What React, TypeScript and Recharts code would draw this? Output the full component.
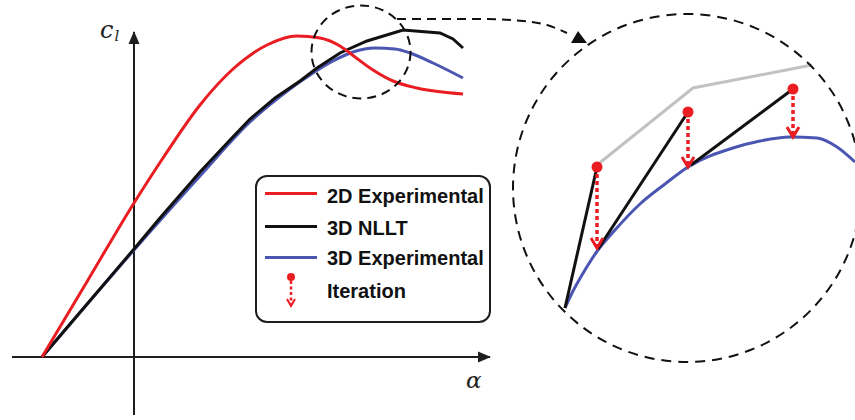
import React from 'react';
import { LineChart, Line, XAxis, YAxis, ReferenceDot, Legend } from 'recharts';

// ---------- Main plot (alpha, c_l) ----------
const alpha2D = [-9.2, -4.6, 0, 2.9, 6.6, 9.9, 13.3, 16.3, 18.6, 20.6, 22.1, 23.9, 25.9, 28.3, 32.9];
const cl2D = [0, 0.77, 1.54, 1.99, 2.52, 2.88, 3.12, 3.21, 3.19, 3.11, 3.0, 2.87, 2.76, 2.69, 2.63];

const alphaNLLT = [-9.2, 0, 2.6, 6.6, 9.6, 11.6, 14.1, 16.6, 18.3, 20.6, 23.3, 26.9, 30.6, 31.9, 32.9];
const clNLLT = [0, 1.08, 1.39, 1.85, 2.17, 2.38, 2.59, 2.76, 2.89, 3.04, 3.16, 3.27, 3.24, 3.18, 3.09];

const alpha3D = [-9.2, 0, 6.6, 11.6, 15.6, 17.6, 19.9, 21.9, 24.1, 26.1, 27.6, 29.9, 32.9];
const cl3D = [0, 1.07, 1.81, 2.35, 2.68, 2.82, 2.96, 3.05, 3.09, 3.08, 3.04, 2.94, 2.79];

const axisAlphaRange = [-12.2, 35.6];
const axisClRange = [-0.58, 3.25];

const zoomCenter = { alpha: 22.7, cl: 3.05 };
const connectorAlpha = [26.3, 34.6, 38.9, 41.3, 43.3];
const connectorCl = [3.38, 3.38, 3.36, 3.32, 3.24];

// ---------- Inset (magnified view) ----------
const insetBlueX = [0, 0.7, 1.7, 3.3, 5.0, 7.5, 10.0, 12.3, 16.8, 19.5, 22.5, 25.2, 27.2, 29.0];
const insetBlueY = [0, 1.5, 3.3, 5.8, 7.8, 10.4, 12.4, 14.1, 16.0, 16.7, 17.1, 17.0, 16.1, 14.6];

const insetGrayX = [3.2, 12.8, 24.7];
const insetGrayY = [14.3, 22.0, 24.3];

const blackSegStartX = [0, 3.3, 12.6];
const blackSegStartY = [0, 5.9, 14.3];
const blackSegEndX = [3.2, 12.3, 22.8];
const blackSegEndY = [14.1, 19.6, 21.9];

const iterX = [3.2, 12.3, 22.8];
const iterFrom = [14.1, 19.6, 21.9];
const iterTo = [6.0, 14.1, 17.1];

const insetCenter = { x: 12.2, y: 12.0 };

const seriesNames = ['2D Experimental', '3D NLLT', '3D Experimental', 'Iteration'];

// ---------- styles ----------
const RED = '#ea1d22';
const BLACK = '#111111';
const BLUE = '#4a56b2';
const GRAY = '#c2c2c2';
const AXIS = '#1e1e1e';

const pts = (xs: number[], ys: number[]) => xs.map((x, i) => ({ x, y: ys[i] }));

const red2D = pts(alpha2D, cl2D);
const blackNLLT = pts(alphaNLLT, clNLLT);
const blue3D = pts(alpha3D, cl3D);
const xAxisLine = [{ x: axisAlphaRange[0], y: 0 }, { x: axisAlphaRange[1], y: 0 }];
const yAxisLine = [{ x: 0, y: axisClRange[0] }, { x: 0, y: axisClRange[1] }];
const connector = pts(connectorAlpha, connectorCl);
const insetBlue = pts(insetBlueX, insetBlueY);
const insetGray = pts(insetGrayX, insetGrayY);
const blackSegs = blackSegStartX.map((x, i) => [
  { x, y: blackSegStartY[i] },
  { x: blackSegEndX[i], y: blackSegEndY[i] },
]);
const iterArrows = iterX.map((x, i) => [
  { x, y: iterFrom[i] },
  { x, y: iterTo[i] },
]);

const xArrowDot = (p: any) => {
  if (p.index !== 1) return <g key={`xa${p.index}`} />;
  return (
    <g key="xa">
      <polygon points={`${p.cx + 1},${p.cy} ${p.cx - 12},${p.cy - 5.5} ${p.cx - 12},${p.cy + 5.5}`} fill={AXIS} />
      <text x={p.cx - 24} y={p.cy + 31} fontFamily="'DejaVu Serif', serif" fontStyle="italic" fontSize={23} fill={AXIS}>α</text>
    </g>
  );
};

const yArrowDot = (p: any) => {
  if (p.index !== 1) return <g key={`ya${p.index}`} />;
  return (
    <g key="ya">
      <polygon points={`${p.cx},${p.cy - 1} ${p.cx - 5.5},${p.cy + 12} ${p.cx + 5.5},${p.cy + 12}`} fill={AXIS} />
      <text x={p.cx - 34} y={p.cy + 6} fontFamily="'DejaVu Serif', serif" fontStyle="italic" fontSize={24} fill={AXIS}>
        c<tspan fontSize={15} dy={3} dx={1}>l</tspan>
      </text>
    </g>
  );
};

const connectorDot = (p: any) => {
  if (p.index !== connectorAlpha.length - 1) return <g key={`cn${p.index}`} />;
  return (
    <polygon
      key="cn"
      points={`${p.cx + 11},${p.cy - 2} ${p.cx + 4},${p.cy + 10} ${p.cx + 20},${p.cy + 10}`}
      fill={BLACK}
    />
  );
};

const iterDot = (p: any) => {
  if (p.index === 0) {
    return <circle key={`it0`} cx={p.cx} cy={p.cy} r={5.5} fill={RED} />;
  }
  return (
    <polyline
      key={`it1`}
      points={`${p.cx - 6},${p.cy - 10} ${p.cx},${p.cy} ${p.cx + 6},${p.cy - 10}`}
      fill="none"
      stroke={RED}
      strokeWidth={3}
    />
  );
};

const LegendBox = () => {
  const rowText = [4, 36, 66, 99];
  const rowLine = [16, 49, 80];
  const colors = [RED, BLACK, BLUE];
  return (
    <div
      style={{
        position: 'relative',
        width: 236,
        height: 148,
        boxSizing: 'border-box',
        border: `2px solid ${AXIS}`,
        borderRadius: 12,
        background: '#fff',
        fontFamily: "'Liberation Sans', Arial, sans-serif",
        fontWeight: 'bold',
        fontSize: 20,
        lineHeight: '30px',
        color: '#111',
      }}
    >
      {colors.map((c, i) => (
        <div key={`l${i}`} style={{ position: 'absolute', left: 8, top: rowLine[i] - 1.5, width: 52, height: 3, background: c }} />
      ))}
      <svg style={{ position: 'absolute', left: 24, top: 94 }} width={20} height={40}>
        <circle cx={10} cy={6} r={4} fill={RED} />
        <line x1={10} y1={10} x2={10} y2={34} stroke={RED} strokeWidth={2.5} strokeDasharray="3 2.5" />
        <polyline points="6,28 10,35 14,28" fill="none" stroke={RED} strokeWidth={2} />
      </svg>
      {seriesNames.map((n, i) => (
        <div key={`t${i}`} style={{ position: 'absolute', left: 70, top: rowText[i], whiteSpace: 'nowrap' }}>{n}</div>
      ))}
    </div>
  );
};

export default function App() {
  return (
    <div style={{ position: 'absolute', left: 0, top: 0, width: 855, height: 420, background: '#fff' }}>
      <LineChart width={855} height={420} margin={{ top: 0, right: 0, bottom: 0, left: 0 }}>
        <XAxis xAxisId="m" dataKey="x" type="number" domain={[-13.4, 72.1]} allowDataOverflow hide />
        <YAxis yAxisId="m" dataKey="y" type="number" domain={[-0.63, 3.57]} allowDataOverflow hide />
        <XAxis xAxisId="z" dataKey="x" type="number" domain={[-56.5, 29.0]} allowDataOverflow hide />
        <YAxis yAxisId="z" dataKey="y" type="number" domain={[-11.2, 30.8]} allowDataOverflow hide />

        {/* inset big dashed circle */}
        <ReferenceDot
          xAxisId="z"
          yAxisId="z"
          x={insetCenter.x}
          y={insetCenter.y}
          r={174}
          ifOverflow="visible"
          shape={(p: any) => (
            <circle cx={p.cx} cy={p.cy} r={174} fill="none" stroke={BLACK} strokeWidth={2} strokeDasharray="10 7" />
          )}
        />
        {/* small dashed zoom circle */}
        <ReferenceDot
          xAxisId="m"
          yAxisId="m"
          x={zoomCenter.alpha}
          y={zoomCenter.cl}
          r={48}
          ifOverflow="visible"
          shape={(p: any) => (
            <ellipse cx={p.cx} cy={p.cy} rx={49.5} ry={46.5} fill="none" stroke={BLACK} strokeWidth={2} strokeDasharray="9 6" />
          )}
        />

        {/* axes */}
        <Line xAxisId="m" yAxisId="m" data={xAxisLine} dataKey="y" stroke={AXIS} strokeWidth={2} dot={xArrowDot} activeDot={false} isAnimationActive={false} />
        <Line xAxisId="m" yAxisId="m" data={yAxisLine} dataKey="y" stroke={AXIS} strokeWidth={2} dot={yArrowDot} activeDot={false} isAnimationActive={false} />

        {/* connector */}
        <Line xAxisId="m" yAxisId="m" data={connector} dataKey="y" type="monotone" stroke={BLACK} strokeWidth={2} strokeDasharray="9 6" dot={connectorDot} activeDot={false} isAnimationActive={false} />

        {/* main curves */}
        <Line xAxisId="m" yAxisId="m" data={blue3D} dataKey="y" name={seriesNames[2]} type="monotone" stroke={BLUE} strokeWidth={3} dot={false} activeDot={false} isAnimationActive={false} />
        <Line xAxisId="m" yAxisId="m" data={blackNLLT} dataKey="y" name={seriesNames[1]} type="linear" stroke={BLACK} strokeWidth={3} dot={false} activeDot={false} isAnimationActive={false} />
        <Line xAxisId="m" yAxisId="m" data={red2D} dataKey="y" name={seriesNames[0]} type="monotone" stroke={RED} strokeWidth={3} dot={false} activeDot={false} isAnimationActive={false} />

        {/* inset curves */}
        <Line xAxisId="z" yAxisId="z" data={insetGray} dataKey="y" type="linear" stroke={GRAY} strokeWidth={3} dot={false} activeDot={false} isAnimationActive={false} />
        <Line xAxisId="z" yAxisId="z" data={insetBlue} dataKey="y" type="monotone" stroke={BLUE} strokeWidth={3} dot={false} activeDot={false} isAnimationActive={false} />
        {blackSegs.map((seg, i) => (
          <Line key={`bs${i}`} xAxisId="z" yAxisId="z" data={seg} dataKey="y" type="linear" stroke={BLACK} strokeWidth={3} dot={false} activeDot={false} isAnimationActive={false} />
        ))}
        {iterArrows.map((seg, i) => (
          <Line key={`ia${i}`} xAxisId="z" yAxisId="z" data={seg} dataKey="y" type="linear" stroke={RED} strokeWidth={3.5} strokeDasharray="4 3" dot={iterDot} activeDot={false} isAnimationActive={false} />
        ))}

        <Legend
          layout="horizontal"
          verticalAlign="middle"
          align="center"
          wrapperStyle={{ left: 255, top: 175, width: 236, height: 148 }}
          content={() => <LegendBox />}
        />
      </LineChart>
    </div>
  );
}
